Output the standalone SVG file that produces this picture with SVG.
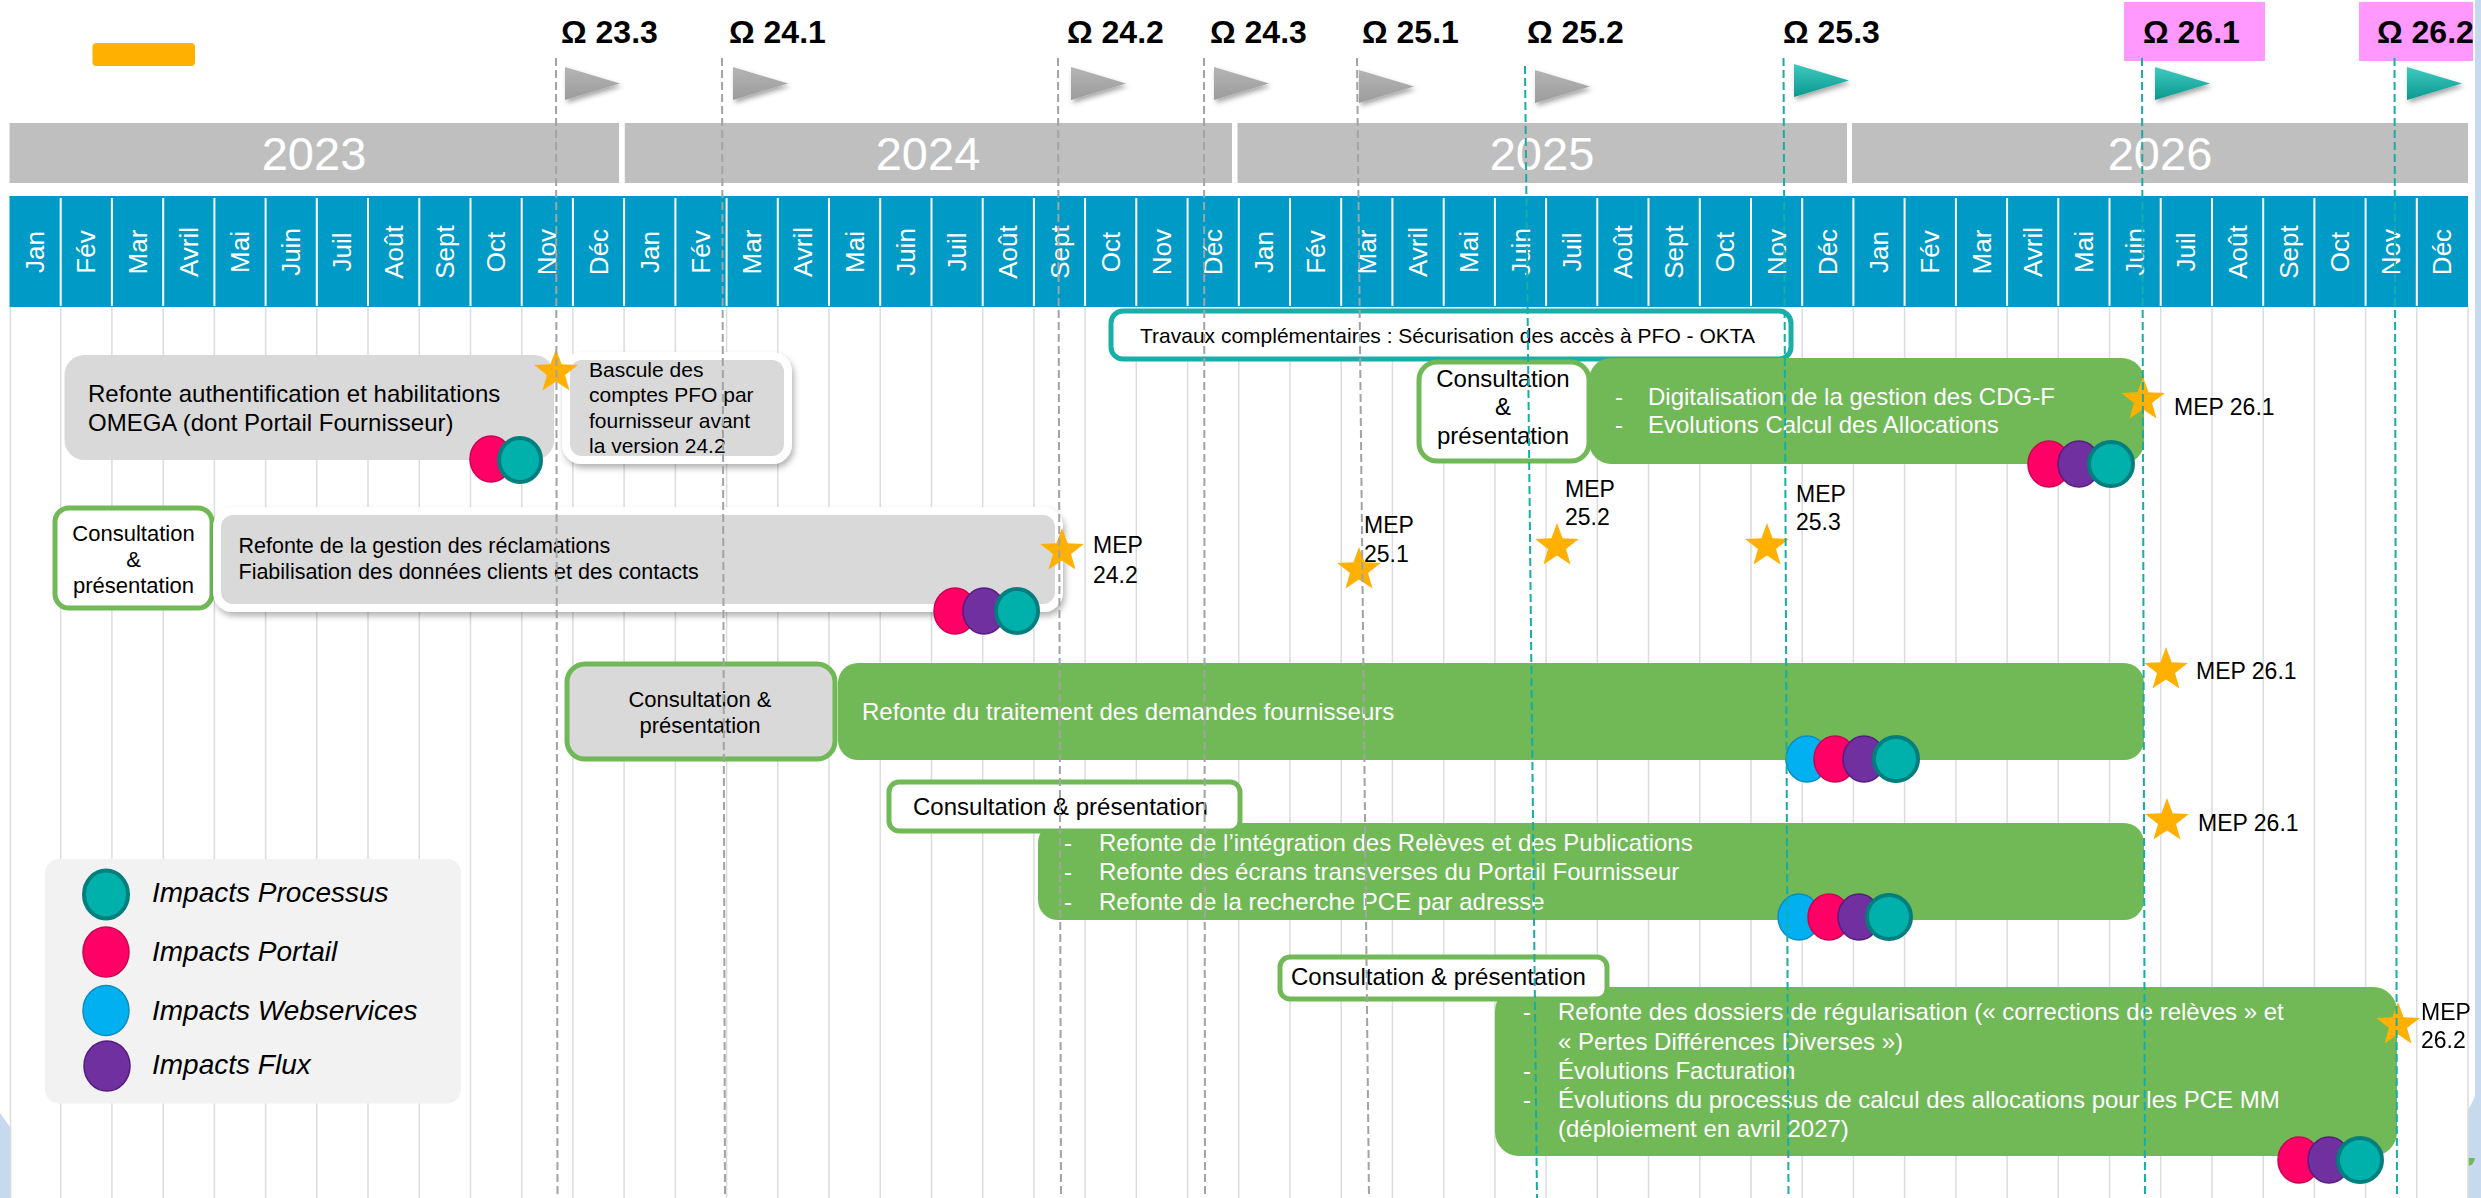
<svg xmlns="http://www.w3.org/2000/svg" width="2481" height="1198" viewBox="0 0 2481 1198">
<defs>
<style>
.yr{fill:#BFBFBF}
.yt{font-family:"Liberation Sans",Arial,sans-serif;font-size:47px;fill:#fff;text-anchor:middle}
.mt{font-family:"Liberation Sans",Arial,sans-serif;font-size:26px;fill:#fff;text-anchor:middle}
.om{font-family:"Liberation Sans",Arial,sans-serif;font-size:32px;font-weight:bold;fill:#000}
.t{font-family:"Liberation Sans",Arial,sans-serif;fill:#000}
.w{font-family:"Liberation Sans",Arial,sans-serif;fill:#fff;font-size:24px}
.mep{font-family:"Liberation Sans",Arial,sans-serif;font-size:23px;fill:#000}
.lg{font-family:"Liberation Sans",Arial,sans-serif;font-size:28px;font-style:italic;fill:#000}
.gray{fill:#D9D9D9}
.grn{fill:#71B857}
.cons{fill:#fff;stroke:#71B857;stroke-width:5}
.consg{fill:#D9D9D9;stroke:#71B857;stroke-width:5}
.wb{fill:#D9D9D9;stroke:#fff;stroke-width:8}
.star{fill:#FFB000}
.dg{stroke:#A3A3A3;stroke-width:2;stroke-dasharray:8 4;fill:none}
.dt{stroke:#17ADA6;stroke-width:2;stroke-dasharray:8 4;fill:none}
.ip-teal{fill:#00B0AA;stroke:#007F7E;stroke-width:4}
.ip-pink{fill:#FF0066;stroke:#D0004F;stroke-width:1.5}
.ip-purple{fill:#7030A0;stroke:#561C80;stroke-width:1.5}
.ip-blue{fill:#00B0F0;stroke:#0B8CC0;stroke-width:1.5}
</style>
<filter id="sh" x="-10%" y="-20%" width="125%" height="150%">
<feDropShadow dx="2" dy="4" stdDeviation="3" flood-color="#000" flood-opacity="0.3"/>
</filter>
<filter id="tsh" x="-30%" y="-30%" width="170%" height="180%">
<feDropShadow dx="2" dy="3" stdDeviation="2.5" flood-color="#000" flood-opacity="0.35"/>
</filter>
<linearGradient id="gg" x1="0" y1="0" x2="0" y2="1">
<stop offset="0" stop-color="#B4B4B4"/><stop offset="1" stop-color="#9C9C9C"/>
</linearGradient>
<linearGradient id="tg" x1="0" y1="0" x2="0" y2="1">
<stop offset="0" stop-color="#3FCABF"/><stop offset="1" stop-color="#0A9890"/>
</linearGradient>
<path id="star" d="M0,-23 L5.58,-7.69 L21.87,-7.11 L9.04,2.94 L13.52,18.61 L0,9.5 L-13.52,18.61 L-9.04,2.94 L-21.87,-7.11 L-5.58,-7.69 Z"/>
<polygon id="tri" points="0,0 55,16.5 0,33"/>
</defs>

<rect width="2481" height="1198" fill="#fff"/>

<!-- background edges -->
<g id="background">
<rect x="2475" y="0" width="6" height="1198" fill="#C6D9EE"/>
<path d="M2468,1110 Q2474,1100 2475,1095 L2481,1095 L2481,1198 L2468,1198 Z" fill="#C6D9EE"/>
<path d="M0,1113 L10,1127 L10,1198 L0,1198 Z" fill="#C6D9EE"/>
<path d="M2468,1158 L2475,1158 Q2474,1165 2468,1166 Z" fill="#71B857"/>
</g>

<!-- grid -->
<g id="grid">
<path stroke="#DCDCDC" stroke-width="1.5" fill="none" d="M10.5,307V1198 M60.7,307V1198 M111.9,307V1198 M163.2,307V1198 M214.4,307V1198 M265.6,307V1198 M316.8,307V1198 M368,307V1198 M419.3,307V1198 M470.5,307V1198 M521.7,307V1198 M572.9,307V1198 M624.1,307V1198 M675.4,307V1198 M726.6,307V1198 M777.8,307V1198 M829,307V1198 M880.2,307V1198 M931.5,307V1198 M982.7,307V1198 M1033.9,307V1198 M1085.1,307V1198 M1136.3,307V1198 M1187.6,307V1198 M1238.8,307V1198 M1290,307V1198 M1341.2,307V1198 M1392.4,307V1198 M1443.7,307V1198 M1494.9,307V1198 M1546.1,307V1198 M1597.3,307V1198 M1648.5,307V1198 M1699.8,307V1198 M1751,307V1198 M1802.2,307V1198 M1853.4,307V1198 M1904.6,307V1198 M1955.9,307V1198 M2007.1,307V1198 M2058.3,307V1198 M2109.5,307V1198 M2160.7,307V1198 M2212,307V1198 M2263.2,307V1198 M2314.4,307V1198 M2365.6,307V1198 M2416.8,307V1198 M2468,307V1198"/>
</g>

<!-- orange tag -->
<rect id="tag" x="92.5" y="43" width="102.5" height="23" rx="4" fill="#FFB000"/>

<!-- years -->
<g id="years">
<rect class="yr" x="9.5" y="123" width="609.5" height="60"/>
<rect class="yr" x="624.8" y="123" width="607.2" height="60"/>
<rect class="yr" x="1237.5" y="123" width="609.5" height="60"/>
<rect class="yr" x="1852" y="123" width="616" height="60"/>
<text class="yt" x="314" y="170">2023</text>
<text class="yt" x="928" y="170">2024</text>
<text class="yt" x="1542" y="170">2025</text>
<text class="yt" x="2160" y="170">2026</text>
</g>

<!-- months -->
<g id="months">
<rect x="9.5" y="196" width="2458.5" height="111" fill="#009AC6"/>
<path stroke="#fff" stroke-width="2" fill="none" d="M60.7,198V306 M111.9,198V306 M163.2,198V306 M214.4,198V306 M265.6,198V306 M316.8,198V306 M368,198V306 M419.3,198V306 M470.5,198V306 M521.7,198V306 M572.9,198V306 M624.1,198V306 M675.4,198V306 M726.6,198V306 M777.8,198V306 M829,198V306 M880.2,198V306 M931.5,198V306 M982.7,198V306 M1033.9,198V306 M1085.1,198V306 M1136.3,198V306 M1187.6,198V306 M1238.8,198V306 M1290,198V306 M1341.2,198V306 M1392.4,198V306 M1443.7,198V306 M1494.9,198V306 M1546.1,198V306 M1597.3,198V306 M1648.5,198V306 M1699.8,198V306 M1751,198V306 M1802.2,198V306 M1853.4,198V306 M1904.6,198V306 M1955.9,198V306 M2007.1,198V306 M2058.3,198V306 M2109.5,198V306 M2160.7,198V306 M2212,198V306 M2263.2,198V306 M2314.4,198V306 M2365.6,198V306 M2416.8,198V306"/>
<text class="mt" transform="translate(44.1,252) rotate(-90)">Jan</text>
<text class="mt" transform="translate(95.3,252) rotate(-90)">Fév</text>
<text class="mt" transform="translate(146.5,252) rotate(-90)">Mar</text>
<text class="mt" transform="translate(197.8,252) rotate(-90)">Avril</text>
<text class="mt" transform="translate(249,252) rotate(-90)">Mai</text>
<text class="mt" transform="translate(300.2,252) rotate(-90)">Juin</text>
<text class="mt" transform="translate(351.4,252) rotate(-90)">Juil</text>
<text class="mt" transform="translate(402.6,252) rotate(-90)">Août</text>
<text class="mt" transform="translate(453.9,252) rotate(-90)">Sept</text>
<text class="mt" transform="translate(505.1,252) rotate(-90)">Oct</text>
<text class="mt" transform="translate(556.3,252) rotate(-90)">Nov</text>
<text class="mt" transform="translate(607.5,252) rotate(-90)">Déc</text>
<text class="mt" transform="translate(658.7,252) rotate(-90)">Jan</text>
<text class="mt" transform="translate(710,252) rotate(-90)">Fév</text>
<text class="mt" transform="translate(761.2,252) rotate(-90)">Mar</text>
<text class="mt" transform="translate(812.4,252) rotate(-90)">Avril</text>
<text class="mt" transform="translate(863.6,252) rotate(-90)">Mai</text>
<text class="mt" transform="translate(914.8,252) rotate(-90)">Juin</text>
<text class="mt" transform="translate(966.1,252) rotate(-90)">Juil</text>
<text class="mt" transform="translate(1017.3,252) rotate(-90)">Août</text>
<text class="mt" transform="translate(1068.5,252) rotate(-90)">Sept</text>
<text class="mt" transform="translate(1119.7,252) rotate(-90)">Oct</text>
<text class="mt" transform="translate(1170.9,252) rotate(-90)">Nov</text>
<text class="mt" transform="translate(1222.2,252) rotate(-90)">Déc</text>
<text class="mt" transform="translate(1273.4,252) rotate(-90)">Jan</text>
<text class="mt" transform="translate(1324.6,252) rotate(-90)">Fév</text>
<text class="mt" transform="translate(1375.8,252) rotate(-90)">Mar</text>
<text class="mt" transform="translate(1427,252) rotate(-90)">Avril</text>
<text class="mt" transform="translate(1478.3,252) rotate(-90)">Mai</text>
<text class="mt" transform="translate(1529.5,252) rotate(-90)">Juin</text>
<text class="mt" transform="translate(1580.7,252) rotate(-90)">Juil</text>
<text class="mt" transform="translate(1631.9,252) rotate(-90)">Août</text>
<text class="mt" transform="translate(1683.1,252) rotate(-90)">Sept</text>
<text class="mt" transform="translate(1734.4,252) rotate(-90)">Oct</text>
<text class="mt" transform="translate(1785.6,252) rotate(-90)">Nov</text>
<text class="mt" transform="translate(1836.8,252) rotate(-90)">Déc</text>
<text class="mt" transform="translate(1888,252) rotate(-90)">Jan</text>
<text class="mt" transform="translate(1939.2,252) rotate(-90)">Fév</text>
<text class="mt" transform="translate(1990.5,252) rotate(-90)">Mar</text>
<text class="mt" transform="translate(2041.7,252) rotate(-90)">Avril</text>
<text class="mt" transform="translate(2092.9,252) rotate(-90)">Mai</text>
<text class="mt" transform="translate(2144.1,252) rotate(-90)">Juin</text>
<text class="mt" transform="translate(2195.3,252) rotate(-90)">Juil</text>
<text class="mt" transform="translate(2246.6,252) rotate(-90)">Août</text>
<text class="mt" transform="translate(2297.8,252) rotate(-90)">Sept</text>
<text class="mt" transform="translate(2349,252) rotate(-90)">Oct</text>
<text class="mt" transform="translate(2400.2,252) rotate(-90)">Nov</text>
<text class="mt" transform="translate(2451.4,252) rotate(-90)">Déc</text>
</g>

<!-- milestone headers -->
<g id="releases">
<rect x="2124" y="2" width="141" height="59" fill="#FF99FF"/>
<rect x="2359" y="2" width="114" height="59" fill="#FF99FF"/>
<text class="om" x="561" y="43">Ω 23.3</text>
<text class="om" x="729" y="43">Ω 24.1</text>
<text class="om" x="1067" y="43">Ω 24.2</text>
<text class="om" x="1210" y="43">Ω 24.3</text>
<text class="om" x="1362" y="43">Ω 25.1</text>
<text class="om" x="1527" y="43">Ω 25.2</text>
<text class="om" x="1783" y="43">Ω 25.3</text>
<text class="om" x="2143" y="43">Ω 26.1</text>
<text class="om" x="2377" y="43">Ω 26.2</text>
<g filter="url(#tsh)" fill="url(#gg)">
<use href="#tri" x="565" y="67"/>
<use href="#tri" x="733" y="67"/>
<use href="#tri" x="1071" y="67"/>
<use href="#tri" x="1214" y="67"/>
<use href="#tri" x="1359" y="70"/>
<use href="#tri" x="1535" y="70"/>
</g>
<g filter="url(#tsh)" fill="url(#tg)">
<use href="#tri" x="1794" y="64"/>
<use href="#tri" x="2155" y="67"/>
<use href="#tri" x="2407" y="67"/>
</g>
</g>

<!-- legend -->
<g id="legend">
<rect x="45" y="859" width="416" height="244.5" rx="14" fill="#F2F2F2"/>
<ellipse class="ip-teal" cx="106" cy="894.5" rx="22" ry="24"/>
<ellipse class="ip-pink" cx="106" cy="952" rx="23" ry="25"/>
<ellipse class="ip-blue" cx="106" cy="1010.5" rx="23" ry="25"/>
<ellipse class="ip-purple" cx="107" cy="1066" rx="23" ry="25"/>
<text class="lg" x="152" y="902">Impacts Processus</text>
<text class="lg" x="152" y="961">Impacts Portail</text>
<text class="lg" x="152" y="1020">Impacts Webservices</text>
<text class="lg" x="152" y="1073.5">Impacts Flux</text>
</g>

<!-- node A -->
<g id="node-auth">
<rect class="gray" x="64.5" y="355" width="489.5" height="105" rx="20"/>
<text class="t" font-size="24" x="88" y="401.5">Refonte authentification et habilitations</text>
<text class="t" font-size="24" x="88" y="430.5">OMEGA (dont Portail Fournisseur)</text>
<ellipse class="ip-pink" cx="491" cy="459" rx="21" ry="23"/>
<ellipse class="ip-teal" cx="520" cy="460" rx="21" ry="22"/>
</g>

<!-- node B -->
<g id="node-bascule">
<rect class="wb" x="566" y="356" width="222" height="104" rx="16" filter="url(#sh)"/>
<text class="t" font-size="21" x="589" y="377">Bascule des</text>
<text class="t" font-size="21" x="589" y="402">comptes PFO par</text>
<text class="t" font-size="21" x="589" y="427.5">fournisseur avant</text>
<text class="t" font-size="21" x="589" y="453">la version 24.2</text>
</g>
<use class="star" href="#star" x="556" y="372"/>

<!-- node C -->
<g id="node-consult-1">
<rect class="cons" x="55" y="508" width="157" height="100" rx="14"/>
<text class="t" font-size="22" text-anchor="middle" x="133.5" y="541">Consultation</text>
<text class="t" font-size="22" text-anchor="middle" x="133.5" y="567">&amp;</text>
<text class="t" font-size="22" text-anchor="middle" x="133.5" y="593">présentation</text>
</g>

<!-- node D -->
<g id="node-reclamations">
<rect class="wb" x="217" y="511" width="842" height="97" rx="16" filter="url(#sh)"/>
<text class="t" font-size="21.5" x="238.5" y="553">Refonte de la gestion des réclamations</text>
<text class="t" font-size="21.5" x="238.5" y="579">Fiabilisation des données clients et des contacts</text>
<ellipse class="ip-pink" cx="955" cy="611" rx="21" ry="23"/>
<ellipse class="ip-purple" cx="984" cy="611" rx="21" ry="23"/>
<ellipse class="ip-teal" cx="1017" cy="611" rx="21" ry="22"/>
</g>
<g id="mep-24-2">
<use class="star" href="#star" x="1062" y="551"/>
<text class="mep" x="1093" y="553">MEP</text>
<text class="mep" x="1093" y="583">24.2</text>
</g>

<!-- node E -->
<g id="node-okta">
<rect x="1111" y="311" width="680" height="48" rx="12" fill="#fff" stroke="#17AFA7" stroke-width="5"/>
<text class="t" font-size="21" x="1140" y="343">Travaux complémentaires : Sécurisation des accès à PFO - OKTA</text>
</g>

<!-- node G + F -->
<g id="node-cdgf">
<rect class="grn" x="1589" y="358" width="555" height="106" rx="22"/>
<text class="w" x="1615" y="405">-</text>
<text class="w" x="1648" y="405">Digitalisation de la gestion des CDG-F</text>
<text class="w" x="1615" y="433">-</text>
<text class="w" x="1648" y="433">Evolutions Calcul des Allocations</text>
<ellipse class="ip-pink" cx="2049" cy="464" rx="21" ry="23"/>
<ellipse class="ip-purple" cx="2079" cy="464" rx="21" ry="23"/>
<ellipse class="ip-teal" cx="2111" cy="464" rx="22" ry="22"/>
</g>
<g id="node-consult-2">
<rect class="cons" x="1419" y="362" width="170" height="99" rx="18"/>
<text class="t" font-size="24" text-anchor="middle" x="1503" y="387">Consultation</text>
<text class="t" font-size="24" text-anchor="middle" x="1503" y="415">&amp;</text>
<text class="t" font-size="24" text-anchor="middle" x="1503" y="444">présentation</text>
</g>
<g id="mep-26-1-a">
<use class="star" href="#star" x="2143" y="400"/>
<text class="mep" x="2174" y="415">MEP 26.1</text>
</g>

<g id="mep-25-1">
<use class="star" href="#star" x="1359" y="570"/>
<text class="mep" x="1364" y="533">MEP</text>
<text class="mep" x="1364" y="562">25.1</text>
</g>
<g id="mep-25-2">
<use class="star" href="#star" x="1557" y="546"/>
<text class="mep" x="1565" y="497">MEP</text>
<text class="mep" x="1565" y="525">25.2</text>
</g>
<g id="mep-25-3">
<use class="star" href="#star" x="1767" y="546"/>
<text class="mep" x="1796" y="502">MEP</text>
<text class="mep" x="1796" y="530">25.3</text>
</g>

<!-- node H / I -->
<g id="node-consult-3">
<rect class="consg" x="567" y="664" width="268" height="95" rx="18"/>
<text class="t" font-size="22" text-anchor="middle" x="700" y="707">Consultation &amp;</text>
<text class="t" font-size="22" text-anchor="middle" x="700" y="732.5">présentation</text>
</g>
<g id="node-demandes">
<rect class="grn" x="838" y="663" width="1306" height="97" rx="20"/>
<text class="w" x="862" y="719.5">Refonte du traitement des demandes fournisseurs</text>
<ellipse class="ip-blue" cx="1807" cy="759" rx="21" ry="23"/>
<ellipse class="ip-pink" cx="1835" cy="759" rx="21" ry="23"/>
<ellipse class="ip-purple" cx="1864" cy="759" rx="21" ry="23"/>
<ellipse class="ip-teal" cx="1896" cy="759" rx="22" ry="22"/>
</g>
<g id="mep-26-1-b">
<use class="star" href="#star" x="2166" y="670"/>
<text class="mep" x="2196" y="679">MEP 26.1</text>
</g>

<!-- node K / J -->
<g id="node-releves">
<rect class="grn" x="1038" y="823" width="1106" height="97" rx="20"/>
<text class="w" x="1064" y="850.5">-</text>
<text class="w" x="1099" y="850.5">Refonte de l’intégration des Relèves et des Publications</text>
<text class="w" x="1064" y="880">-</text>
<text class="w" x="1099" y="880">Refonte des écrans transverses du Portail Fournisseur</text>
<text class="w" x="1064" y="909.5">-</text>
<text class="w" x="1099" y="909.5">Refonte de la recherche PCE par adresse</text>
<ellipse class="ip-blue" cx="1799" cy="917" rx="21" ry="23"/>
<ellipse class="ip-pink" cx="1829" cy="917" rx="21" ry="23"/>
<ellipse class="ip-purple" cx="1859" cy="917" rx="21" ry="23"/>
<ellipse class="ip-teal" cx="1889" cy="917" rx="22" ry="22"/>
</g>
<g id="node-consult-4">
<rect class="cons" x="889" y="782" width="351" height="49" rx="10"/>
<text class="t" font-size="24" x="913" y="815">Consultation &amp; présentation</text>
</g>
<g id="mep-26-1-c">
<use class="star" href="#star" x="2167" y="821"/>
<text class="mep" x="2198" y="831">MEP 26.1</text>
</g>

<!-- node M / L -->
<g id="node-regularisation">
<rect class="grn" x="1495" y="987" width="902" height="169" rx="24"/>
<text class="w" x="1523" y="1020">-</text>
<text class="w" x="1558" y="1020">Refonte des dossiers de régularisation (« corrections de relèves » et</text>
<text class="w" x="1558" y="1049.5">« Pertes Différences Diverses »)</text>
<text class="w" x="1523" y="1079">-</text>
<text class="w" x="1558" y="1079">Évolutions Facturation</text>
<text class="w" x="1523" y="1108">-</text>
<text class="w" x="1558" y="1108">Évolutions du processus de calcul des allocations pour les PCE MM</text>
<text class="w" x="1558" y="1137">(déploiement en avril 2027)</text>
<ellipse class="ip-pink" cx="2299" cy="1160" rx="21" ry="23"/>
<ellipse class="ip-purple" cx="2329" cy="1160" rx="21" ry="23"/>
<ellipse class="ip-teal" cx="2360" cy="1160" rx="22" ry="22"/>
</g>
<g id="node-consult-5">
<rect class="cons" x="1280" y="957" width="327" height="42" rx="10"/>
<text class="t" font-size="24" x="1291" y="985">Consultation &amp; présentation</text>
</g>
<g id="mep-26-2">
<use class="star" href="#star" x="2398" y="1025"/>
<text class="mep" x="2421" y="1020">MEP</text>
<text class="mep" x="2421" y="1048">26.2</text>
</g>

<!-- milestone dashed lines -->
<g id="connectors">
<path class="dg" d="M556,58 L557.5,1198"/>
<path class="dg" d="M722,58 L725,1198"/>
<path class="dg" d="M1058,58 L1061,1198"/>
<path class="dg" d="M1204,58 L1205,1198"/>
<path class="dg" d="M1357,58 L1369,1198"/>
<path class="dt" d="M1525,66 L1537,1198"/>
<path class="dt" d="M1783.5,58 L1788.5,1198"/>
<path class="dt" d="M2142,58 L2145,1198"/>
<path class="dt" d="M2394.5,58 L2397,1198"/>
</g>
</svg>
